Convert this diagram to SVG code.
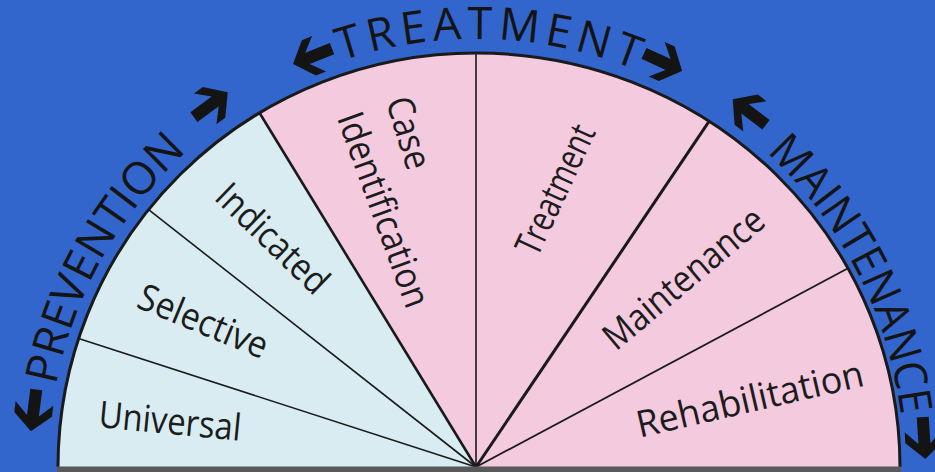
<svg xmlns="http://www.w3.org/2000/svg" width="935" height="472" viewBox="0 0 935 472">
<style>
.lbl{font-family:"Open Sans","Liberation Sans",sans-serif;font-size:37px;font-weight:500;fill:#1c1c1c;text-anchor:middle}
.arc{font-family:"Open Sans","Liberation Sans",sans-serif;font-size:45px;fill:#141414}
.div{stroke:#1a1a1a;fill:none}
.arrow{fill:#141414}
</style>
<defs>
<path id="textArc" d="M54.5,541.3 A428,428 0 1 1 897.5,541.3"/>
<path id="arr" d="M21,0 L4,-19 L-7,-19 L5.5,-6 L-21,-6 L-21,6 L5.5,6 L-7,19 L4,19 Z"/>
</defs>
<rect width="935" height="472" fill="#3366cc"/>
<g id="sectors">
<path id="prevention-area" d="M476,467 L58,467 A418,414 0 0 1 259.6,113 Z" fill="#d8ecf1"/>
<path id="treatment-area" d="M476,467 L259.6,113 A418,414 0 0 1 476,53 A424,414 0 0 1 900,467 Z" fill="#f4cadf"/>
</g>
<g id="connectors">
<line class="div" x1="476" y1="467" x2="78.6" y2="338.6" stroke-width="1.6"/>
<line class="div" x1="476" y1="467" x2="148.6" y2="209.6" stroke-width="1.6"/>
<line class="div" x1="476" y1="467" x2="259.6" y2="113" stroke-width="2.6"/>
<line class="div" x1="476" y1="467" x2="476" y2="53" stroke-width="1.6" stroke="#3a3a3a"/>
<line class="div" x1="476" y1="467" x2="709.2" y2="121.2" stroke-width="3"/>
<line class="div" x1="476" y1="467" x2="848" y2="268.3" stroke-width="1.8"/>
<path class="div" d="M58,467 A418,414 0 0 1 476,53 A424,414 0 0 1 900,467" stroke-width="3"/>
<rect x="57" y="466.5" width="844" height="6" fill="#595959"/>
</g>
<g id="node-universal"><text class="lbl" transform="translate(170,422) rotate(5.5)" y="12" textLength="143" lengthAdjust="spacingAndGlyphs">Universal</text></g>
<g id="node-selective"><text class="lbl" transform="translate(203,322) rotate(22.5)" y="12" textLength="137" lengthAdjust="spacingAndGlyphs">Selective</text></g>
<g id="node-indicated"><text class="lbl" transform="translate(272,239) rotate(44)" y="12" textLength="141" lengthAdjust="spacingAndGlyphs">Indicated</text></g>
<g id="node-case-identification">
<text class="lbl" transform="translate(408,133) rotate(73)" y="12" textLength="74" lengthAdjust="spacingAndGlyphs">Case</text>
<text class="lbl" transform="translate(383,210) rotate(70)" y="12" textLength="205" lengthAdjust="spacingAndGlyphs">Identification</text>
</g>
<g id="node-treatment"><text class="lbl" transform="translate(556,190) rotate(-65)" y="12" textLength="139" lengthAdjust="spacingAndGlyphs">Treatment</text></g>
<g id="node-maintenance"><text class="lbl" transform="translate(684,279) rotate(-40)" y="12" textLength="198" lengthAdjust="spacingAndGlyphs">Maintenance</text></g>
<g id="node-rehabilitation"><text class="lbl" transform="translate(750,400) rotate(-13)" y="12" textLength="232" lengthAdjust="spacingAndGlyphs">Rehabilitation</text></g>
<g id="band-prevention">
<text class="arc"><textPath href="#textArc" startOffset="156.9" textLength="272.7" lengthAdjust="spacingAndGlyphs">PREVENTION</textPath></text>
<use href="#arr" class="arrow" transform="rotate(-82.7 476 467) translate(476 21) rotate(180)"/>
<use href="#arr" class="arrow" transform="rotate(-36.2 476 467) translate(476 18)"/>
</g>
<g id="band-treatment">
<text class="arc"><textPath href="#textArc" startOffset="609.6" textLength="300.3" lengthAdjust="spacing">TREATMENT</textPath></text>
<use href="#arr" class="arrow" transform="rotate(-21.7 476 467) translate(476 25) rotate(180)"/>
<use href="#arr" class="arrow" transform="rotate(24.8 476 467) translate(476 21)"/>
</g>
<g id="band-maintenance">
<text class="arc"><textPath href="#textArc" startOffset="1066" textLength="301" lengthAdjust="spacingAndGlyphs">MAINTENANCE</textPath></text>
<use href="#arr" class="arrow" transform="rotate(37.6 476 467) translate(476 19) rotate(180)"/>
<use href="#arr" class="arrow" transform="rotate(86.3 476 467) translate(476 18)"/>
</g>
</svg>
